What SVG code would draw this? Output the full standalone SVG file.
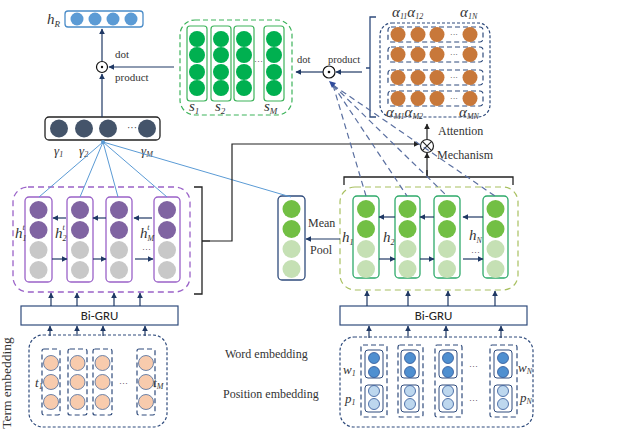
<svg xmlns="http://www.w3.org/2000/svg" width="643" height="430" viewBox="0 0 643 430">
<style>
.ser{font-family:"Liberation Serif","Times New Roman",serif;fill:#333}
.it{font-style:italic}
.sans{font-family:Carlito,Calibri,"Liberation Sans",Arial,sans-serif;fill:#222}
.nav{stroke:#1f3864;stroke-width:1.2;fill:none}
.blu{stroke:#5b9bd5;stroke-width:1;fill:none}
.dsh{stroke:#5a6fa0;stroke-width:1.2;fill:none;stroke-dasharray:6 4}
.pcol{fill:#fff;stroke:#9a62c8;stroke-width:1.3}
.gcol{fill:#fff;stroke:#2eaa6a;stroke-width:1.3}
.scol{fill:#fff;stroke:#3cb35a;stroke-width:1.2}
.pur{fill:#8064a2}
.gry{fill:#c8c8c8}
.gr1{fill:#72bf44}
.gr2{fill:#c5e0b4}
.sg{fill:#00b050}
.org{fill:#c8783a}
.peach{fill:#f8cbad;stroke:#4a6a9a;stroke-width:0.8}
.wb{fill:#4f8fd0;stroke:#2f5597;stroke-width:0.8}
.pb{fill:#bdd7ee;stroke:#2f5597;stroke-width:0.8}
.nd{fill:none;stroke:#2f4b7c;stroke-width:1.2;stroke-dasharray:3 2}
.nd2{fill:none;stroke:#2f4b7c;stroke-width:1.2;stroke-dasharray:5 3}
</style>
<defs>
<marker id="ar" viewBox="0 0 10 10" refX="9" refY="5" markerWidth="6" markerHeight="6" markerUnits="userSpaceOnUse" orient="auto"><path d="M0,0L10,5L0,10z" fill="#1f3864"/></marker>
<marker id="ark" viewBox="0 0 10 10" refX="9" refY="5" markerWidth="6" markerHeight="6" markerUnits="userSpaceOnUse" orient="auto"><path d="M0,0L10,5L0,10z" fill="#222"/></marker>
</defs>

<!-- h_R -->
<g id="hR">
<rect x="65" y="11" width="78" height="16" rx="3" fill="#fff" stroke="#4a8cc8" stroke-width="1.3"/>
<circle cx="77" cy="19" r="6.5" fill="#5b9bd5"/>
<circle cx="95" cy="19" r="6.5" fill="#5b9bd5"/>
<circle cx="113" cy="19" r="6.5" fill="#5b9bd5"/>
<circle cx="131" cy="19" r="6.5" fill="#5b9bd5"/>
<text x="47" y="24" class="ser it" font-size="15">h<tspan font-size="9" dy="3">R</tspan></text>
</g>

<!-- dot product left -->
<g id="dot1">
<circle cx="102" cy="67" r="5.5" fill="#fff" stroke="#111" stroke-width="1.2"/>
<circle cx="102" cy="67" r="1.2" fill="#111"/>
<text x="115" y="58" class="ser" font-size="11">dot</text>
<text x="115" y="81" class="ser" font-size="11">product</text>
</g>

<!-- gamma -->
<g id="gamma">
<rect x="45" y="117" width="115" height="23" rx="4" fill="#fff" stroke="#222" stroke-width="1.3"/>
<circle cx="59" cy="128.5" r="9" fill="#44546a"/>
<circle cx="84" cy="128.5" r="9" fill="#44546a"/>
<circle cx="108" cy="128.5" r="9" fill="#44546a"/>
<text x="127" y="131" class="ser" font-size="10">···</text>
<circle cx="147" cy="128.5" r="9" fill="#44546a"/>
<text x="54" y="155" class="ser it" font-size="13">γ<tspan font-size="8" dy="2">1</tspan></text>
<text x="79" y="155" class="ser it" font-size="13">γ<tspan font-size="8" dy="2">2</tspan></text>
<text x="141" y="155" class="ser it" font-size="13">γ<tspan font-size="8" dy="2">M</tspan></text>
</g>

<!-- S box -->
<g id="S">
<rect x="180" y="20" width="112" height="95" rx="15" fill="none" stroke="#3cb35a" stroke-width="1.2" stroke-dasharray="5 3"/>
<rect x="187" y="26" width="20" height="75" rx="3" class="scol"/>
<rect x="211" y="26" width="20" height="75" rx="3" class="scol"/>
<rect x="234" y="26" width="20" height="75" rx="3" class="scol"/>
<rect x="264" y="26" width="20" height="75" rx="3" class="scol"/>
<g class="sg">
<circle cx="197" cy="39" r="8"/><circle cx="197" cy="55" r="8"/><circle cx="197" cy="72" r="8"/><circle cx="197" cy="88" r="8"/>
<circle cx="221" cy="39" r="8"/><circle cx="221" cy="55" r="8"/><circle cx="221" cy="72" r="8"/><circle cx="221" cy="88" r="8"/>
<circle cx="244" cy="39" r="8"/><circle cx="244" cy="55" r="8"/><circle cx="244" cy="72" r="8"/><circle cx="244" cy="88" r="8"/>
<circle cx="274" cy="39" r="8"/><circle cx="274" cy="55" r="8"/><circle cx="274" cy="72" r="8"/><circle cx="274" cy="88" r="8"/>
</g>
<text x="254" y="64" class="ser" font-size="9">···</text>
<text x="189" y="111" class="ser it" font-size="15">s<tspan font-size="9" dy="3">1</tspan></text>
<text x="215" y="111" class="ser it" font-size="15">s<tspan font-size="9" dy="3">2</tspan></text>
<text x="264" y="111" class="ser it" font-size="15">s<tspan font-size="9" dy="3">M</tspan></text>
</g>

<!-- dot product right -->
<g id="dot2">
<circle cx="329" cy="72" r="6" fill="#fff" stroke="#111" stroke-width="1.2"/>
<circle cx="329" cy="72" r="1.3" fill="#111"/>
<text x="297" y="63" class="ser" font-size="10.5">dot</text>
<text x="328" y="63" class="ser" font-size="10.5">product</text>
</g>

<!-- alpha matrix -->
<g id="alpha">
<path d="M376,17H370V117H376M370,68H366" fill="none" stroke="#2f4b7c" stroke-width="1.3"/>
<rect x="380" y="23" width="110" height="94" rx="12" class="nd"/>
<rect x="388" y="27" width="95" height="15" rx="3" class="nd2"/>
<rect x="388" y="47" width="95" height="15" rx="3" class="nd2"/>
<rect x="388" y="70" width="95" height="15" rx="3" class="nd2"/>
<rect x="388" y="91" width="95" height="15" rx="3" class="nd2"/>
<g class="org">
<circle cx="398" cy="34.5" r="7.5"/><circle cx="418" cy="34.5" r="7.5"/><circle cx="437" cy="34.5" r="7.5"/><circle cx="470" cy="34.5" r="7.5"/>
<circle cx="398" cy="54.5" r="7.5"/><circle cx="418" cy="54.5" r="7.5"/><circle cx="437" cy="54.5" r="7.5"/><circle cx="470" cy="54.5" r="7.5"/>
<circle cx="398" cy="77.5" r="7.5"/><circle cx="418" cy="77.5" r="7.5"/><circle cx="437" cy="77.5" r="7.5"/><circle cx="470" cy="77.5" r="7.5"/>
<circle cx="398" cy="98.5" r="7.5"/><circle cx="418" cy="98.5" r="7.5"/><circle cx="437" cy="98.5" r="7.5"/><circle cx="470" cy="98.5" r="7.5"/>
</g>
<g class="ser" font-size="8"><text x="450" y="37">···</text><text x="450" y="57">···</text><text x="450" y="80">···</text><text x="450" y="101">···</text></g>
<text x="392" y="17" class="ser it" font-size="15">α<tspan font-size="8" dy="2">11</tspan><tspan dy="-2" font-size="15">α</tspan><tspan font-size="8" dy="2">12</tspan></text>
<text x="460" y="17" class="ser it" font-size="15">α<tspan font-size="8" dy="2">1N</tspan></text>
<text x="386" y="117" class="ser it" font-size="15">α<tspan font-size="8" dy="2">M1</tspan><tspan dy="-2" font-size="15">α</tspan><tspan font-size="8" dy="2">M2</tspan></text>
<text x="459" y="117" class="ser it" font-size="15">α<tspan font-size="8" dy="2">MN</tspan></text>
<text x="438" y="135" class="ser" font-size="12">Attention</text>
</g>

<!-- mechanism -->
<g id="mech">
<circle cx="427" cy="146" r="6.5" fill="#fff" stroke="#222" stroke-width="1.2"/>
<path d="M422.4,141.4L431.6,150.6M431.6,141.4L422.4,150.6" stroke="#222" stroke-width="1.1"/>
<text x="437" y="159" class="ser" font-size="12">Mechanism</text>
</g>

<!-- left hidden states -->
<g id="hidden-term">
<rect x="13" y="187" width="177" height="105" rx="15" fill="none" stroke="#9a62c8" stroke-width="1.3" stroke-dasharray="6 4"/>
<rect x="25" y="197" width="27" height="85" rx="4" class="pcol"/>
<rect x="67" y="197" width="26" height="85" rx="4" class="pcol"/>
<rect x="106" y="197" width="26" height="85" rx="4" class="pcol"/>
<rect x="154" y="197" width="26" height="85" rx="4" class="pcol"/>
<circle cx="38.5" cy="210" r="9" class="pur"/><circle cx="38.5" cy="230" r="9" class="pur"/><circle cx="38.5" cy="250" r="9" class="gry"/><circle cx="38.5" cy="270" r="9" class="gry"/>
<circle cx="80" cy="210" r="9" class="pur"/><circle cx="80" cy="230" r="9" class="pur"/><circle cx="80" cy="250" r="9" class="gry"/><circle cx="80" cy="270" r="9" class="gry"/>
<circle cx="119" cy="210" r="9" class="pur"/><circle cx="119" cy="230" r="9" class="pur"/><circle cx="119" cy="250" r="9" class="gry"/><circle cx="119" cy="270" r="9" class="gry"/>
<circle cx="167" cy="210" r="9" class="pur"/><circle cx="167" cy="230" r="9" class="pur"/><circle cx="167" cy="250" r="9" class="gry"/><circle cx="167" cy="270" r="9" class="gry"/>
<text x="15" y="238" class="ser it" font-size="15">h<tspan font-size="8" dy="3">1</tspan><tspan font-size="8" dx="-4" dy="-11">t</tspan></text>
<text x="55" y="238" class="ser it" font-size="15">h<tspan font-size="8" dy="3">2</tspan><tspan font-size="8" dx="-4" dy="-11">t</tspan></text>
<text x="140" y="238" class="ser it" font-size="15">h<tspan font-size="8" dy="3">M</tspan><tspan font-size="8" dx="-7" dy="-11">t</tspan></text>
<text x="142" y="252" class="ser" font-size="9">···</text>
<path d="M194,187H202V294H194M202,241H210" fill="none" stroke="#222" stroke-width="1.3"/>
</g>

<!-- Mean pool -->
<g id="meanpool">
<rect x="278" y="196" width="27" height="84" rx="4" fill="#fff" stroke="#2f4b7c" stroke-width="1.3"/>
<circle cx="291.5" cy="209" r="9" class="gr1"/><circle cx="291.5" cy="229" r="9" class="gr1"/><circle cx="291.5" cy="249" r="9" class="gr2"/><circle cx="291.5" cy="269" r="9" class="gr2"/>
<text x="308" y="227" class="ser" font-size="12">Mean</text>
<text x="310" y="254" class="ser" font-size="12">Pool</text>
</g>

<!-- right hidden states -->
<g id="hidden-word">
<path d="M344,185V177H513V185M427,177V170" fill="none" stroke="#222" stroke-width="1.3"/>
<rect x="340" y="187" width="178" height="103" rx="15" fill="none" stroke="#a8c060" stroke-width="1.2" stroke-dasharray="6 4"/>
<rect x="353" y="196" width="26" height="82" rx="4" class="gcol"/>
<rect x="395" y="196" width="25" height="82" rx="4" class="gcol"/>
<rect x="434" y="196" width="26" height="82" rx="4" class="gcol"/>
<rect x="483" y="196" width="25" height="82" rx="4" class="gcol"/>
<circle cx="366" cy="209" r="9" class="gr1"/><circle cx="366" cy="229" r="9" class="gr1"/><circle cx="366" cy="249" r="9" class="gr2"/><circle cx="366" cy="269" r="9" class="gr2"/>
<circle cx="407.5" cy="209" r="9" class="gr1"/><circle cx="407.5" cy="229" r="9" class="gr1"/><circle cx="407.5" cy="249" r="9" class="gr2"/><circle cx="407.5" cy="269" r="9" class="gr2"/>
<circle cx="447" cy="209" r="9" class="gr1"/><circle cx="447" cy="229" r="9" class="gr1"/><circle cx="447" cy="249" r="9" class="gr2"/><circle cx="447" cy="269" r="9" class="gr2"/>
<circle cx="495.5" cy="209" r="9" class="gr1"/><circle cx="495.5" cy="229" r="9" class="gr1"/><circle cx="495.5" cy="249" r="9" class="gr2"/><circle cx="495.5" cy="269" r="9" class="gr2"/>
<text x="342" y="242" class="ser it" font-size="15">h<tspan font-size="8" dy="3">1</tspan></text>
<text x="383" y="242" class="ser it" font-size="15">h<tspan font-size="8" dy="3">2</tspan></text>
<text x="469" y="240" class="ser it" font-size="15">h<tspan font-size="8" dy="3">N</tspan></text>
<text x="471" y="255" class="ser" font-size="9">···</text>
</g>

<!-- Bi-GRU boxes -->
<g id="bigru-left">
<rect x="21" y="306" width="157" height="19" fill="#fff" stroke="#2f4b7c" stroke-width="1.2"/>
<text x="99.5" y="320" class="sans" font-size="13" text-anchor="middle">Bi-GRU</text>
</g>
<g id="bigru-right">
<rect x="340" y="306" width="187" height="19" fill="#fff" stroke="#2f4b7c" stroke-width="1.2"/>
<text x="433.5" y="320" class="sans" font-size="13" text-anchor="middle">Bi-GRU</text>
</g>

<!-- term embedding -->
<g id="term-emb">
<rect x="29" y="335" width="138" height="92" rx="14" class="nd"/>
<rect x="42" y="349" width="18" height="66" rx="2" class="nd2"/>
<rect x="68" y="349" width="19" height="66" rx="2" class="nd2"/>
<rect x="93" y="349" width="19" height="66" rx="2" class="nd2"/>
<rect x="137" y="349" width="18" height="66" rx="2" class="nd2"/>
<circle cx="51" cy="363" r="7.5" class="peach"/><circle cx="51" cy="382" r="7.5" class="peach"/><circle cx="51" cy="402" r="7.5" class="peach"/>
<circle cx="77.5" cy="363" r="7.5" class="peach"/><circle cx="77.5" cy="382" r="7.5" class="peach"/><circle cx="77.5" cy="402" r="7.5" class="peach"/>
<circle cx="102.5" cy="363" r="7.5" class="peach"/><circle cx="102.5" cy="382" r="7.5" class="peach"/><circle cx="102.5" cy="402" r="7.5" class="peach"/>
<circle cx="146" cy="363" r="7.5" class="peach"/><circle cx="146" cy="382" r="7.5" class="peach"/><circle cx="146" cy="402" r="7.5" class="peach"/>
<text x="119" y="386" class="ser" font-size="9">···</text>
<text x="35" y="387" class="ser it" font-size="13">t<tspan font-size="8" dy="2">1</tspan></text>
<text x="153" y="387" class="ser it" font-size="13">t<tspan font-size="8" dy="2">M</tspan></text>
<text transform="translate(11,383) rotate(-90)" class="ser" font-size="13.5" text-anchor="middle">Term embedding</text>
</g>

<!-- word/position embedding -->
<g id="word-emb">
<text x="225" y="358" class="ser" font-size="12">Word  embedding</text>
<text x="223" y="398" class="ser" font-size="12">Position embedding</text>
<rect x="340" y="337" width="193" height="90" rx="14" class="nd"/>
<rect x="361" y="345" width="26" height="72" rx="2" class="nd2"/>
<rect x="398" y="345" width="25" height="72" rx="2" class="nd2"/>
<rect x="435" y="345" width="27" height="72" rx="2" class="nd2"/>
<rect x="490" y="345" width="27" height="72" rx="2" class="nd2"/>
<g fill="#fff" stroke="#2f4b7c" stroke-width="1">
<rect x="365" y="350" width="18" height="28" rx="3"/><rect x="365" y="385" width="18" height="27" rx="3"/>
<rect x="401" y="350" width="18" height="28" rx="3"/><rect x="401" y="385" width="18" height="27" rx="3"/>
<rect x="439" y="350" width="18" height="28" rx="3"/><rect x="439" y="385" width="18" height="27" rx="3"/>
<rect x="494" y="350" width="18" height="28" rx="3"/><rect x="494" y="385" width="18" height="27" rx="3"/>
</g>
<circle cx="374" cy="358" r="5.5" class="wb"/><circle cx="374" cy="372" r="5.5" class="wb"/><circle cx="374" cy="391" r="5.5" class="pb"/><circle cx="374" cy="404" r="5.5" class="pb"/>
<circle cx="410" cy="358" r="5.5" class="wb"/><circle cx="410" cy="372" r="5.5" class="wb"/><circle cx="410" cy="391" r="5.5" class="pb"/><circle cx="410" cy="404" r="5.5" class="pb"/>
<circle cx="448" cy="358" r="5.5" class="wb"/><circle cx="448" cy="372" r="5.5" class="wb"/><circle cx="448" cy="391" r="5.5" class="pb"/><circle cx="448" cy="404" r="5.5" class="pb"/>
<circle cx="503" cy="358" r="5.5" class="wb"/><circle cx="503" cy="372" r="5.5" class="wb"/><circle cx="503" cy="391" r="5.5" class="pb"/><circle cx="503" cy="404" r="5.5" class="pb"/>
<text x="469" y="369" class="ser" font-size="9">···</text>
<text x="469" y="403" class="ser" font-size="9">···</text>
<text x="343" y="374" class="ser it" font-size="13">w<tspan font-size="8" dy="2">1</tspan></text>
<text x="345" y="403" class="ser it" font-size="13">p<tspan font-size="8" dy="2">1</tspan></text>
<text x="518" y="372" class="ser it" font-size="13">w<tspan font-size="8" dy="2">N</tspan></text>
<text x="520" y="402" class="ser it" font-size="13">p<tspan font-size="8" dy="2">N</tspan></text>
</g>

<!-- connectors -->
<g id="connectors">
<line x1="102" y1="61" x2="102" y2="29" class="nav" marker-end="url(#ar)"/>
<line x1="102" y1="117" x2="102" y2="74" class="nav" marker-end="url(#ar)"/>
<line x1="174" y1="67" x2="109" y2="67" class="nav" marker-end="url(#ar)"/>
<line x1="323" y1="72" x2="296" y2="72" class="nav" marker-end="url(#ar)"/>
<line x1="362" y1="72" x2="336" y2="72" class="nav" marker-end="url(#ar)"/>
<line x1="103" y1="142" x2="39" y2="197" class="blu"/>
<line x1="103" y1="142" x2="80" y2="197" class="blu"/>
<line x1="103" y1="142" x2="118" y2="197" class="blu"/>
<line x1="103" y1="142" x2="167" y2="197" class="blu"/>
<line x1="103" y1="142" x2="291" y2="197" class="blu"/>
<circle cx="103" cy="142" r="2" fill="#5b9bd5"/>
<polyline points="210,241 232,241 232,144 419,144" fill="none" stroke="#222" stroke-width="1.2" marker-end="url(#ark)"/>
<line x1="427" y1="177" x2="427" y2="153" stroke="#222" stroke-width="1.2" marker-end="url(#ark)"/>
<line x1="427" y1="139" x2="427" y2="124" stroke="#222" stroke-width="1.2" marker-end="url(#ark)"/>
<line x1="333" y1="85" x2="366" y2="196" class="dsh"/>
<line x1="333" y1="85" x2="407" y2="196" class="dsh"/>
<line x1="333" y1="85" x2="447" y2="196" class="dsh"/>
<line x1="333" y1="85" x2="495" y2="196" class="dsh"/>
<path d="M329,81L336,83L332,88z" fill="#2f4b9c"/>
<line x1="340" y1="239" x2="306" y2="239" class="nav" marker-end="url(#ar)"/>
<line x1="66" y1="218" x2="53" y2="218" class="nav" marker-end="url(#ar)"/>
<line x1="106" y1="218" x2="93" y2="218" class="nav" marker-end="url(#ar)"/>
<line x1="152" y1="218" x2="134" y2="218" class="nav" marker-end="url(#ar)"/>
<line x1="52" y1="259" x2="67" y2="259" class="nav" marker-end="url(#ar)"/>
<line x1="93" y1="259" x2="106" y2="259" class="nav" marker-end="url(#ar)"/>
<line x1="135" y1="259" x2="153" y2="259" class="nav" marker-end="url(#ar)"/>
<line x1="395" y1="217" x2="379" y2="217" class="nav" marker-end="url(#ar)"/>
<line x1="434" y1="217" x2="420" y2="217" class="nav" marker-end="url(#ar)"/>
<line x1="483" y1="217" x2="463" y2="217" class="nav" marker-end="url(#ar)"/>
<line x1="379" y1="259" x2="395" y2="259" class="nav" marker-end="url(#ar)"/>
<line x1="420" y1="259" x2="434" y2="259" class="nav" marker-end="url(#ar)"/>
<line x1="463" y1="259" x2="483" y2="259" class="nav" marker-end="url(#ar)"/>
<line x1="51" y1="306" x2="51" y2="293" class="nav" marker-end="url(#ar)"/>
<line x1="77" y1="306" x2="77" y2="293" class="nav" marker-end="url(#ar)"/>
<line x1="114" y1="306" x2="114" y2="293" class="nav" marker-end="url(#ar)"/>
<line x1="140" y1="306" x2="140" y2="293" class="nav" marker-end="url(#ar)"/>
<line x1="367" y1="306" x2="367" y2="291" class="nav" marker-end="url(#ar)"/>
<line x1="408" y1="306" x2="408" y2="291" class="nav" marker-end="url(#ar)"/>
<line x1="448" y1="306" x2="448" y2="291" class="nav" marker-end="url(#ar)"/>
<line x1="495" y1="306" x2="495" y2="291" class="nav" marker-end="url(#ar)"/>
<line x1="50" y1="336" x2="50" y2="326" class="nav" marker-end="url(#ar)"/>
<line x1="77" y1="336" x2="77" y2="326" class="nav" marker-end="url(#ar)"/>
<line x1="103" y1="336" x2="103" y2="326" class="nav" marker-end="url(#ar)"/>
<line x1="145" y1="336" x2="145" y2="326" class="nav" marker-end="url(#ar)"/>
<line x1="369" y1="338" x2="369" y2="326" class="nav" marker-end="url(#ar)"/>
<line x1="408" y1="338" x2="408" y2="326" class="nav" marker-end="url(#ar)"/>
<line x1="446" y1="338" x2="446" y2="326" class="nav" marker-end="url(#ar)"/>
<line x1="501" y1="338" x2="501" y2="326" class="nav" marker-end="url(#ar)"/>
</g>
</svg>
